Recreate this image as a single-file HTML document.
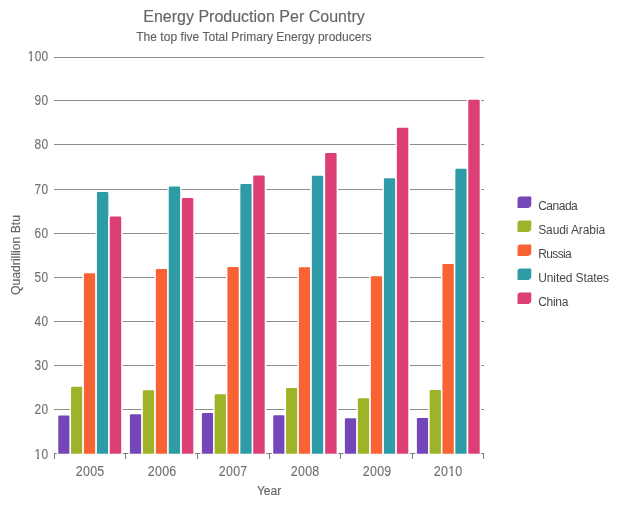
<!DOCTYPE html>
<html lang="en"><head><meta charset="utf-8"><title>Energy Production Per Country</title>
<style>
html,body{margin:0;padding:0;background:#fff;}
body{width:625px;height:508px;overflow:hidden;position:relative;font-family:"Liberation Sans",Arial,sans-serif;}
svg{position:absolute;left:0;top:0;display:block;}
.t{position:absolute;white-space:nowrap;line-height:1;}
.title{left:0;width:508px;text-align:center;top:8.5px;font-size:16px;color:#666;-webkit-text-stroke:0.15px #666;}
.sub{left:0;width:507.8px;text-align:center;top:30.5px;font-size:12px;color:#606060;letter-spacing:0.035px;-webkit-text-stroke:0.12px #606060;transform:translateY(-0.25px);}
.yl{right:576.3px;font-size:14px;color:#707070;text-align:right;letter-spacing:0.4px;transform:scaleX(0.85);transform-origin:100% 50%;-webkit-text-stroke:0.12px #707070;}
.xl{width:72px;text-align:center;top:464px;font-size:14px;color:#707070;letter-spacing:0.3px;text-indent:0.3px;transform:scaleX(0.89);transform-origin:50% 50%;-webkit-text-stroke:0.12px #707070;}
.m{position:absolute;height:2px;background:#fff;}
.xt{left:219px;width:100px;text-align:center;top:485px;font-size:12px;color:#666;-webkit-text-stroke:0.15px #666;}
.yt{left:15.6px;top:255.3px;width:0;height:0;font-size:12.2px;color:#666;-webkit-text-stroke:0.15px #666;}
.yt span{position:absolute;left:-60px;width:120px;top:-6px;text-align:center;transform:rotate(-90deg);transform-origin:50% 50%;display:block;line-height:12px;}
.lg{left:538.2px;font-size:12px;color:#484848;letter-spacing:-0.18px;}
</style></head><body>
<svg width="625" height="508" viewBox="0 0 625 508">
<rect width="625" height="508" fill="#fff"/>
<g fill="#8c8c8c">
<rect x="54" y="57" width="430" height="1"/>
<rect x="54" y="100" width="430" height="1"/>
<rect x="54" y="144" width="430" height="1"/>
<rect x="54" y="189" width="430" height="1"/>
<rect x="54" y="233" width="430" height="1"/>
<rect x="54" y="277" width="430" height="1"/>
<rect x="54" y="321" width="430" height="1"/>
<rect x="54" y="365" width="430" height="1"/>
<rect x="54" y="409" width="430" height="1"/>
</g>
<g fill="#7c7c7c">
<rect x="54" y="453" width="430" height="1"/>
<rect x="54" y="453" width="1" height="6"/>
<rect x="125" y="453" width="1" height="6"/>
<rect x="197" y="453" width="1" height="6"/>
<rect x="269" y="453" width="1" height="6"/>
<rect x="340" y="453" width="1" height="6"/>
<rect x="412" y="453" width="1" height="6"/>
<rect x="483" y="453" width="1" height="6"/>
</g>
<g stroke="#fff" stroke-width="3.0" stroke-linejoin="round" paint-order="stroke">
<path d="M58.25 453.7V416.80Q58.25 415.60 59.45 415.60H68.50Q69.70 415.60 69.70 416.80V453.7Z" fill="#7446B9"/>
<path d="M71.05 453.7V387.90Q71.05 386.70 72.25 386.70H81.30Q82.50 386.70 82.50 387.90V453.7Z" fill="#9FB328"/>
<path d="M83.90 453.7V274.50Q83.90 273.30 85.10 273.30H94.15Q95.35 273.30 95.35 274.50V453.7Z" fill="#F96232"/>
<path d="M96.90 453.7V193.30Q96.90 192.10 98.10 192.10H107.15Q108.35 192.10 108.35 193.30V453.7Z" fill="#2E9CA6"/>
<path d="M109.75 453.7V217.70Q109.75 216.50 110.95 216.50H120.00Q121.20 216.50 121.20 217.70V453.7Z" fill="#DC3F76"/>
<path d="M129.89 453.7V415.50Q129.89 414.30 131.09 414.30H140.14Q141.34 414.30 141.34 415.50V453.7Z" fill="#7446B9"/>
<path d="M142.85 453.7V391.50Q142.85 390.30 144.05 390.30H153.10Q154.30 390.30 154.30 391.50V453.7Z" fill="#9FB328"/>
<path d="M155.85 453.7V270.30Q155.85 269.10 157.05 269.10H166.10Q167.30 269.10 167.30 270.30V453.7Z" fill="#F96232"/>
<path d="M168.75 453.7V187.70Q168.75 186.50 169.95 186.50H179.00Q180.20 186.50 180.20 187.70V453.7Z" fill="#2E9CA6"/>
<path d="M181.85 453.7V199.10Q181.85 197.90 183.05 197.90H192.10Q193.30 197.90 193.30 199.10V453.7Z" fill="#DC3F76"/>
<path d="M201.89 453.7V414.30Q201.89 413.10 203.09 413.10H212.14Q213.34 413.10 213.34 414.30V453.7Z" fill="#7446B9"/>
<path d="M214.65 453.7V395.50Q214.65 394.30 215.85 394.30H224.90Q226.10 394.30 226.10 395.50V453.7Z" fill="#9FB328"/>
<path d="M227.45 453.7V268.30Q227.45 267.10 228.65 267.10H237.70Q238.90 267.10 238.90 268.30V453.7Z" fill="#F96232"/>
<path d="M240.35 453.7V185.10Q240.35 183.90 241.55 183.90H250.60Q251.80 183.90 251.80 185.10V453.7Z" fill="#2E9CA6"/>
<path d="M253.25 453.7V176.70Q253.25 175.50 254.45 175.50H263.50Q264.70 175.50 264.70 176.70V453.7Z" fill="#DC3F76"/>
<path d="M273.25 453.7V416.50Q273.25 415.30 274.45 415.30H283.50Q284.70 415.30 284.70 416.50V453.7Z" fill="#7446B9"/>
<path d="M286.05 453.7V389.30Q286.05 388.10 287.25 388.10H296.30Q297.50 388.10 297.50 389.30V453.7Z" fill="#9FB328"/>
<path d="M298.85 453.7V268.50Q298.85 267.30 300.05 267.30H309.10Q310.30 267.30 310.30 268.50V453.7Z" fill="#F96232"/>
<path d="M311.85 453.7V176.90Q311.85 175.70 313.05 175.70H322.10Q323.30 175.70 323.30 176.90V453.7Z" fill="#2E9CA6"/>
<path d="M325.15 453.7V154.30Q325.15 153.10 326.35 153.10H335.40Q336.60 153.10 336.60 154.30V453.7Z" fill="#DC3F76"/>
<path d="M344.89 453.7V419.50Q344.89 418.30 346.09 418.30H355.14Q356.34 418.30 356.34 419.50V453.7Z" fill="#7446B9"/>
<path d="M357.85 453.7V399.50Q357.85 398.30 359.05 398.30H368.10Q369.30 398.30 369.30 399.50V453.7Z" fill="#9FB328"/>
<path d="M370.85 453.7V277.35Q370.85 276.15 372.05 276.15H381.10Q382.30 276.15 382.30 277.35V453.7Z" fill="#F96232"/>
<path d="M383.91 453.7V179.50Q383.91 178.30 385.11 178.30H394.16Q395.36 178.30 395.36 179.50V453.7Z" fill="#2E9CA6"/>
<path d="M396.85 453.7V129.00Q396.85 127.80 398.05 127.80H407.10Q408.30 127.80 408.30 129.00V453.7Z" fill="#DC3F76"/>
<path d="M416.89 453.7V419.30Q416.89 418.10 418.09 418.10H427.14Q428.34 418.10 428.34 419.30V453.7Z" fill="#7446B9"/>
<path d="M429.65 453.7V391.10Q429.65 389.90 430.85 389.90H439.90Q441.10 389.90 441.10 391.10V453.7Z" fill="#9FB328"/>
<path d="M442.45 453.7V265.30Q442.45 264.10 443.65 264.10H452.70Q453.90 264.10 453.90 265.30V453.7Z" fill="#F96232"/>
<path d="M455.35 453.7V169.90Q455.35 168.70 456.55 168.70H465.60Q466.80 168.70 466.80 169.90V453.7Z" fill="#2E9CA6"/>
<path d="M468.25 453.7V100.85Q468.25 99.65 469.45 99.65H478.50Q479.70 99.65 479.70 100.85V453.7Z" fill="#DC3F76"/>
</g>
<path d="M520.50 196.60H530.70A0.6 0.6 0 0 1 531.30 197.20V204.10A4.0 4.0 0 0 1 527.30 208.10H518.10A0.6 0.6 0 0 1 517.50 207.50V199.60A3.0 3.0 0 0 1 520.50 196.60Z" fill="#7446B9"/>
<path d="M520.50 220.60H530.70A0.6 0.6 0 0 1 531.30 221.20V228.10A4.0 4.0 0 0 1 527.30 232.10H518.10A0.6 0.6 0 0 1 517.50 231.50V223.60A3.0 3.0 0 0 1 520.50 220.60Z" fill="#9FB328"/>
<path d="M520.50 244.60H530.70A0.6 0.6 0 0 1 531.30 245.20V252.10A4.0 4.0 0 0 1 527.30 256.10H518.10A0.6 0.6 0 0 1 517.50 255.50V247.60A3.0 3.0 0 0 1 520.50 244.60Z" fill="#F96232"/>
<path d="M520.50 268.60H530.70A0.6 0.6 0 0 1 531.30 269.20V276.10A4.0 4.0 0 0 1 527.30 280.10H518.10A0.6 0.6 0 0 1 517.50 279.50V271.60A3.0 3.0 0 0 1 520.50 268.60Z" fill="#2E9CA6"/>
<path d="M520.50 292.60H530.70A0.6 0.6 0 0 1 531.30 293.20V300.10A4.0 4.0 0 0 1 527.30 304.10H518.10A0.6 0.6 0 0 1 517.50 303.50V295.60A3.0 3.0 0 0 1 520.50 292.60Z" fill="#DC3F76"/>
</svg>
<div class="t title">Energy Production Per Country</div>
<div class="t sub">The top five Total Primary Energy producers</div>
<div class="t yl" style="top:49px">100</div>
<div class="t yl" style="top:93px">90</div>
<div class="t yl" style="top:137px">80</div>
<div class="t yl" style="top:182px">70</div>
<div class="t yl" style="top:226px">60</div>
<div class="t yl" style="top:270px">50</div>
<div class="t yl" style="top:314px">40</div>
<div class="t yl" style="top:358px">30</div>
<div class="t yl" style="top:402px">20</div>
<div class="t yl" style="top:447px">10</div>
<div class="t xl" style="left:54.03px">2005</div>
<div class="t xl" style="left:125.70px">2006</div>
<div class="t xl" style="left:197.37px">2007</div>
<div class="t xl" style="left:269.03px">2008</div>
<div class="t xl" style="left:340.70px">2009</div>
<div class="t xl" style="left:412.37px">2010</div>
<div class="m" style="left:26px;top:59px;width:4.0px;height:3px"></div>
<div class="m" style="left:32px;top:59px;width:3.0px;height:3px"></div>
<div class="m" style="left:26px;top:61px;width:9.0px;height:1px"></div>
<div class="m" style="left:34px;top:457px;width:3.0px;height:3px"></div>
<div class="m" style="left:39px;top:457px;width:3.0px;height:3px"></div>
<div class="m" style="left:34px;top:459px;width:8.0px;height:1px"></div>
<div class="m" style="left:448px;top:474px;width:3.0px;height:3px"></div>
<div class="m" style="left:453px;top:474px;width:3.0px;height:3px"></div>
<div class="m" style="left:448px;top:476px;width:8.0px;height:1px"></div>
<div class="t xt">Year</div>
<div class="t yt"><span>Quadrillion Btu</span></div>
<div class="t lg" style="top:199.5px;letter-spacing:-0.5px">Canada</div>
<div class="t lg" style="top:223.5px;letter-spacing:-0.1px">Saudi Arabia</div>
<div class="t lg" style="top:247.5px;letter-spacing:-0.62px">Russia</div>
<div class="t lg" style="top:271.5px;letter-spacing:-0.1px">United States</div>
<div class="t lg" style="top:295.5px;letter-spacing:-0.3px">China</div>
</body></html>
